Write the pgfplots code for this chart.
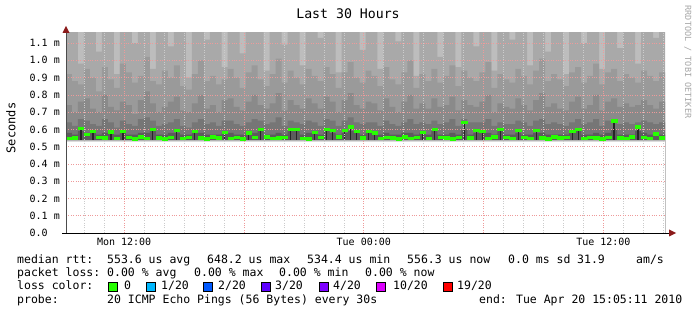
\documentclass[border=0pt]{standalone}
\usepackage{fontspec}
\setmainfont{DejaVu Sans Mono}
\usepackage{pgfplots}
\pgfplotsset{compat=1.18}
\usepackage{pgfplotstable}

\definecolor{sA}{HTML}{BDBDBD}
\definecolor{sB}{HTML}{A9A9A9}
\definecolor{sC}{HTML}{9A9A9A}
\definecolor{sD}{HTML}{8A8A8A}
\definecolor{sE}{HTML}{767676}
\definecolor{sF}{HTML}{5C5C5C}
\definecolor{bandA}{HTML}{7A7A7A}
\definecolor{bandB}{HTML}{B4B4B4}
\definecolor{bandC}{HTML}{DCDCDC}
\definecolor{lossA}{HTML}{26FF00}
\definecolor{lossB}{HTML}{00B8FF}
\definecolor{lossC}{HTML}{0059FF}
\definecolor{lossD}{HTML}{5E00FF}
\definecolor{lossE}{HTML}{7E00FF}
\definecolor{lossF}{HTML}{DD00FF}
\definecolor{lossG}{HTML}{FF0000}
\definecolor{majgrid}{HTML}{EE9A9A}
\definecolor{mingrid}{HTML}{CCCCCC}
\definecolor{arrowred}{HTML}{8B1A1A}

\pgfplotstableread{
a b c d e g
1.20 0.92 0.74 0.64 0.58 0.548
1.20 0.88 0.70 0.62 0.57 0.552
0.98 0.86 0.76 0.66 0.59 0.607
1.20 0.95 0.78 0.65 0.58 0.573
1.20 0.90 0.72 0.63 0.58 0.590
1.05 0.82 0.70 0.62 0.57 0.556
1.20 0.96 0.80 0.66 0.58 0.551
1.20 0.89 0.73 0.64 0.58 0.587
0.92 0.84 0.71 0.61 0.57 0.549
1.20 0.98 0.76 0.65 0.58 0.590
1.20 0.93 0.74 0.63 0.57 0.553
1.10 0.87 0.69 0.62 0.57 0.547
1.20 0.91 0.77 0.66 0.58 0.558
1.20 1.02 0.82 0.67 0.58 0.550
0.95 0.88 0.75 0.65 0.59 0.600
1.20 0.86 0.70 0.62 0.57 0.552
1.20 0.94 0.73 0.63 0.57 0.546
1.08 0.90 0.76 0.64 0.58 0.555
1.20 0.97 0.79 0.66 0.58 0.595
1.20 0.85 0.71 0.62 0.57 0.549
0.90 0.83 0.70 0.61 0.57 0.553
1.20 0.92 0.75 0.64 0.58 0.588
1.20 1.00 0.80 0.66 0.58 0.551
1.12 0.88 0.72 0.63 0.57 0.547
1.20 0.91 0.74 0.64 0.57 0.557
1.20 0.86 0.70 0.62 0.57 0.552
0.96 0.89 0.77 0.65 0.58 0.585
1.20 0.95 0.78 0.65 0.58 0.549
1.20 0.90 0.73 0.63 0.57 0.555
1.04 0.84 0.71 0.62 0.57 0.546
1.20 0.93 0.76 0.64 0.58 0.580
1.20 0.97 0.80 0.66 0.58 0.553
1.20 0.89 0.74 0.65 0.59 0.600
0.94 0.85 0.72 0.63 0.57 0.558
1.20 0.92 0.75 0.64 0.57 0.548
1.20 1.01 0.81 0.67 0.58 0.551
1.09 0.87 0.71 0.62 0.57 0.556
1.20 0.94 0.77 0.65 0.59 0.600
1.20 0.90 0.74 0.64 0.59 0.600
0.97 0.86 0.72 0.63 0.57 0.550
1.20 0.95 0.78 0.65 0.58 0.547
1.20 0.91 0.75 0.64 0.58 0.585
1.13 0.88 0.72 0.62 0.57 0.553
1.20 0.96 0.79 0.66 0.59 0.600
1.20 0.92 0.76 0.65 0.58 0.595
0.93 0.84 0.70 0.62 0.57 0.558
1.20 0.93 0.77 0.65 0.58 0.595
1.20 0.99 0.81 0.67 0.59 0.615
1.20 0.90 0.74 0.64 0.58 0.590
1.06 0.87 0.72 0.63 0.57 0.551
1.20 0.94 0.76 0.64 0.58 0.590
1.20 0.91 0.75 0.64 0.58 0.580
0.95 0.85 0.71 0.62 0.57 0.548
1.20 0.96 0.78 0.65 0.58 0.556
1.20 0.89 0.73 0.63 0.57 0.552
1.11 0.86 0.70 0.62 0.57 0.546
1.20 0.93 0.76 0.64 0.58 0.557
1.20 1.00 0.80 0.66 0.58 0.550
0.91 0.84 0.72 0.63 0.57 0.553
1.20 0.92 0.75 0.64 0.58 0.585
1.20 0.88 0.72 0.63 0.57 0.549
1.20 0.95 0.78 0.65 0.59 0.600
1.02 0.87 0.73 0.63 0.57 0.556
1.20 0.91 0.74 0.64 0.57 0.551
1.20 0.97 0.79 0.66 0.58 0.547
0.96 0.85 0.71 0.62 0.57 0.554
1.20 0.94 0.77 0.66 0.60 0.640
1.20 0.90 0.74 0.64 0.57 0.552
1.08 0.88 0.73 0.64 0.58 0.595
1.20 0.93 0.76 0.64 0.58 0.590
1.20 0.99 0.80 0.66 0.58 0.550
0.94 0.84 0.70 0.62 0.57 0.557
1.20 0.92 0.75 0.64 0.59 0.600
1.20 0.89 0.73 0.63 0.57 0.553
1.12 0.87 0.72 0.63 0.57 0.548
1.20 0.95 0.78 0.65 0.58 0.594
1.20 0.91 0.74 0.64 0.57 0.556
0.97 0.86 0.71 0.62 0.57 0.550
1.20 0.94 0.77 0.65 0.58 0.595
1.20 1.01 0.81 0.66 0.58 0.552
1.05 0.88 0.73 0.63 0.57 0.547
1.20 0.92 0.75 0.64 0.57 0.558
1.20 0.89 0.72 0.63 0.57 0.551
0.92 0.85 0.71 0.62 0.57 0.554
1.20 0.93 0.76 0.64 0.58 0.590
1.20 0.96 0.79 0.66 0.59 0.600
1.10 0.87 0.72 0.63 0.57 0.549
1.20 0.91 0.74 0.64 0.57 0.555
1.20 0.98 0.80 0.66 0.58 0.552
0.95 0.86 0.71 0.62 0.57 0.547
1.20 0.93 0.76 0.65 0.58 0.556
1.20 0.95 0.78 0.66 0.60 0.650
1.07 0.88 0.73 0.63 0.57 0.551
1.20 0.92 0.75 0.64 0.57 0.548
1.20 0.90 0.73 0.63 0.57 0.557
0.98 0.87 0.74 0.64 0.59 0.615
1.20 0.94 0.77 0.65 0.58 0.553
1.20 0.91 0.74 0.64 0.57 0.549
1.13 0.88 0.72 0.63 0.57 0.575
1.20 0.93 0.76 0.64 0.57 0.552
1.20 0.93 0.76 0.64 0.57 0.552
}\smoke

\newcommand\lgf{\fontsize{11.5}{14}\selectfont}

\begin{document}
\begin{tikzpicture}
\useasboundingbox (0,0) rectangle (697pt,316pt);
\path (0,0) rectangle (697pt,316pt);
\begin{axis}[
  at={(66pt,83pt)}, anchor=south west, scale only axis,
  width=599pt, height=200pt,
  xmin=9.0861, xmax=39.0861, ymin=0, ymax=1.158,
  axis on top, axis line style={draw=none},
  xtick={12,18,24,30,36},
  xticklabels={Mon 12:00,,Tue 00:00,,Tue 12:00},
  minor xtick={10,11,...,39},
  ytick={0,0.1,0.2,0.3,0.4,0.5,0.6,0.7,0.8,0.9,1.0,1.1},
  yticklabels={0.0\phantom{\ m},0.1 m,0.2 m,0.3 m,0.4 m,0.5 m,0.6 m,0.7 m,0.8 m,0.9 m,1.0 m,1.1 m},
  major tick length=0pt, minor tick length=0pt,
  xmajorgrids, xminorgrids, ymajorgrids,
  major grid style={majgrid, line width=0.6pt, dash pattern=on 0.8pt off 1.6pt},
  minor grid style={mingrid, line width=0.6pt, dash pattern=on 0.8pt off 1.6pt},
  xticklabel style={font=\fontsize{10}{12}\selectfont, anchor=north, inner sep=0pt, yshift=-5pt},
  yticklabel style={font=\fontsize{10}{12}\selectfont, anchor=east, inner sep=0pt, xshift=-6pt},
]
\addplot[draw=none, fill=sA] coordinates {(9.0861,1.2) (39.0861,1.2)} \closedcycle;
\addplot[const plot, draw=none, fill=sB] table[x expr=9.0861+0.3*\coordindex, y=a] {\smoke} \closedcycle;
\addplot[const plot, draw=none, fill=sC] table[x expr=9.0861+0.3*\coordindex, y=b] {\smoke} \closedcycle;
\addplot[const plot, draw=none, fill=sD] table[x expr=9.0861+0.3*\coordindex, y=c] {\smoke} \closedcycle;
\addplot[const plot, draw=none, fill=sE] table[x expr=9.0861+0.3*\coordindex, y=d] {\smoke} \closedcycle;
\addplot[const plot, draw=none, fill=sF] table[x expr=9.0861+0.3*\coordindex, y=e] {\smoke} \closedcycle;
\addplot[ycomb, draw=black!85, line width=1.2pt, restrict y to domain=0.578:2, skip coords between index={100}{101}] table[x expr=9.0861+0.3*\coordindex+0.15, y=g] {\smoke};
\addplot[draw=none, fill=bandA] coordinates {(9.0861,0.541) (39.0861,0.541)} \closedcycle;
\addplot[draw=none, fill=bandB] coordinates {(9.0861,0.536) (39.0861,0.536)} \closedcycle;
\addplot[draw=none, fill=bandC] coordinates {(9.0861,0.531) (39.0861,0.531)} \closedcycle;
\addplot[draw=none, fill=white] coordinates {(9.0861,0.527) (39.0861,0.527)} \closedcycle;
\addplot[lossA, only marks, mark=square*, mark size=1.2pt, mark options={xscale=2.2, draw=none, fill=lossA}, skip coords between index={100}{101}] table[x expr=9.0861+0.3*\coordindex+0.15, y=g] {\smoke};
\end{axis}
% axis lines and arrows
\draw[black, line width=0.9pt] (62pt,83pt) -- (670pt,83pt);
\draw[black!70, line width=0.9pt] (66pt,83pt) -- (66pt,284pt);
\fill[arrowred] (676pt,83pt) -- (669pt,86.5pt) -- (669pt,79.5pt) -- cycle;
\fill[arrowred] (66pt,290pt) -- (62.5pt,283pt) -- (69.5pt,283pt) -- cycle;
% title, labels
\node[anchor=base, inner sep=0pt, font=\fontsize{13.2}{15}\selectfont] at (348pt,297pt) {Last 30 Hours};
\node[rotate=90, inner sep=0pt, font=\fontsize{12}{14}\selectfont] at (11pt,188pt) {Seconds};
\node[rotate=-90, inner sep=0pt, text=black!35, font=\fontsize{8.5}{10}\selectfont] at (688pt,254pt) {RRDTOOL / TOBI OETIKER};
\begin{scope}[every node/.style={anchor=base west, inner sep=0pt, font=\lgf}]
\node at (17pt,52.7pt) {median rtt:};
\node at (107pt,52.7pt) {553.6 us avg};
\node at (207pt,52.7pt) {648.2 us max};
\node at (307pt,52.7pt) {534.4 us min};
\node at (407pt,52.7pt) {556.3 us now};
\node at (508pt,52.7pt) {0.0 ms sd};
\node at (577pt,52.7pt) {31.9};
\node at (636pt,52.7pt) {am/s};
\node at (17pt,39.8pt) {packet loss:};
\node at (107pt,39.8pt) {0.00 \% avg};
\node at (194pt,39.8pt) {0.00 \% max};
\node at (279pt,39.8pt) {0.00 \% min};
\node at (365pt,39.8pt) {0.00 \% now};
\node at (17pt,26.5pt) {loss color:};
\node at (124pt,26.5pt) {0};
\node at (161pt,26.5pt) {1/20};
\node at (218pt,26.5pt) {2/20};
\node at (275pt,26.5pt) {3/20};
\node at (333pt,26.5pt) {4/20};
\node at (393pt,26.5pt) {10/20};
\node at (457pt,26.5pt) {19/20};
\node at (17pt,12.7pt) {probe:};
\node at (107pt,12.7pt) {20 ICMP Echo Pings (56 Bytes) every 30s};
\node at (479pt,12.7pt) {end: Tue Apr 20 15:05:11 2010};
\end{scope}
\foreach \xx/\cc in {108/lossA,146/lossB,203/lossC,261/lossD,319/lossE,376/lossF,443/lossG}{
  \draw[black, line width=0.8pt, fill=\cc] (\xx pt+0.5pt,25pt) rectangle (\xx pt+9pt,33.5pt);
}
\end{tikzpicture}
\end{document}
